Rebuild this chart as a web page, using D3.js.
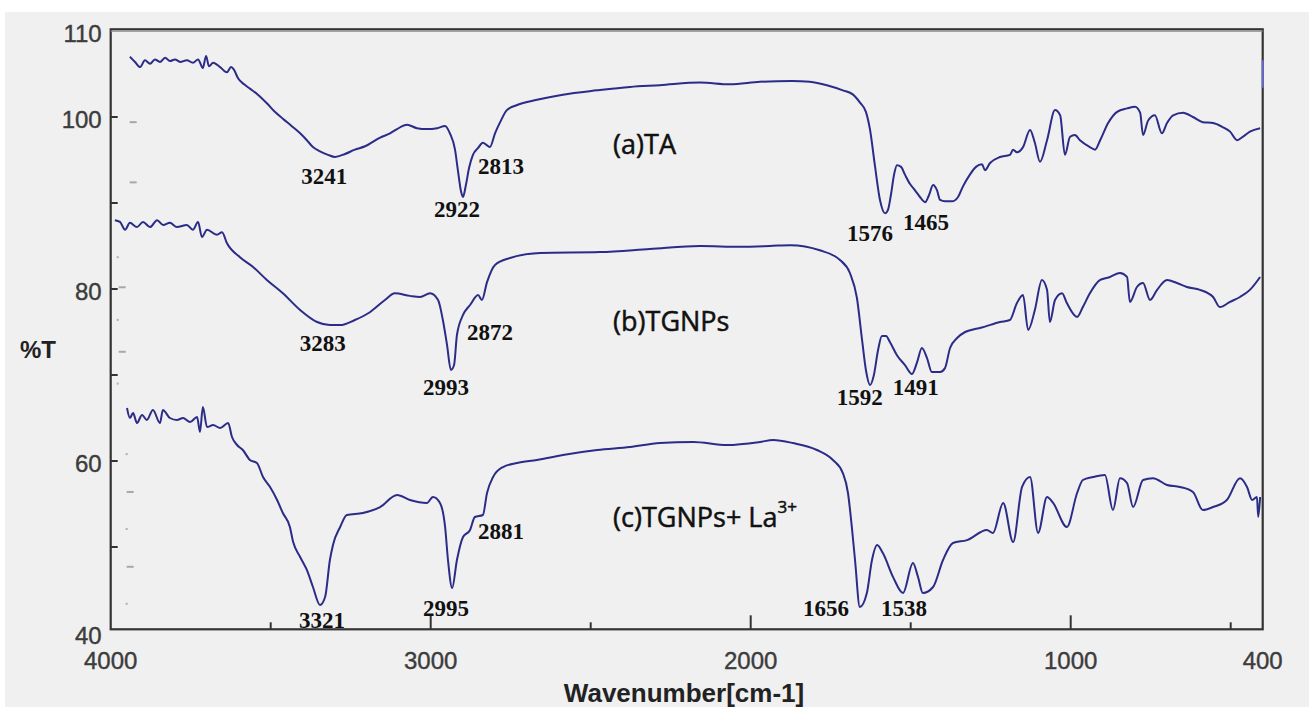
<!DOCTYPE html>
<html>
<head>
<meta charset="utf-8">
<script src="https://cdn.jsdelivr.net/npm/d3@7"></script>
<style>
  html, body { margin: 0; padding: 0; background: #ffffff; }
  svg { display: block; }
</style>
</head>
<body>
<svg id="chart" width="1309" height="723"></svg>
<script>
// ---------------- DATA ----------------
// (a) TA : [wavenumber cm-1, %T]
const seriesTA = [
  [3940,107.0],[3924,106.4],[3908,105.8],[3893,106.6],[3877,106.2],[3862,106.7],[3846,106.4],[3830,106.9],
  [3815,106.5],[3799,106.7],[3783,106.4],[3762,106.6],[3743,106.3],[3727,106.7],[3712,105.7],[3702,107.1],
  [3693,105.9],[3680,106.3],[3658,105.8],[3637,105.2],[3624,105.8],[3615,105.5],[3602,104.5],[3583,103.8],
  [3565,103.3],[3540,102.6],[3512,101.6],[3487,100.6],[3462,99.8],[3433,98.9],[3408,98.1],[3387,97.3],
  [3368,96.5],[3346,96.0],[3321,95.6],[3299,95.35],[3268,95.7],[3237,96.2],[3205,96.6],[3158,97.6],
  [3127,98.1],[3105,98.6],[3074,99.1],[3043,98.7],[3012,98.6],[2980,98.7],[2955,98.95],[2940,98.1],
  [2924,96.2],[2915,93.8],[2905,91.3],[2899,90.7],[2890,92.1],[2880,94.1],[2868,95.6],[2852,96.4],
  [2837,97.0],[2824,96.7],[2815,96.5],[2799,98.1],[2783,99.4],[2762,100.8],[2730,101.4],[2668,102.0],
  [2587,102.6],[2480,103.1],[2377,103.5],[2284,103.7],[2158,104.0],[2065,103.8],[1971,104.1],[1871,104.2],
  [1815,104.1],[1762,103.7],[1712,103.1],[1680,102.6],[1659,101.7],[1640,100.6],[1627,98.5],[1612,94.4],
  [1596,90.35],[1580,88.8],[1571,89.2],[1562,90.9],[1552,93.3],[1543,94.4],[1530,94.2],[1518,93.3],
  [1502,92.2],[1487,91.5],[1471,90.7],[1455,90.1],[1443,90.9],[1430,92.1],[1418,91.5],[1408,90.35],
  [1393,90.2],[1371,90.2],[1352,90.7],[1337,91.9],[1315,93.3],[1296,94.2],[1277,94.5],[1268,93.8],
  [1252,94.65],[1221,95.35],[1190,95.6],[1180,96.2],[1168,95.9],[1149,96.5],[1127,98.5],[1112,97.0],
  [1096,94.8],[1074,97.3],[1049,100.8],[1033,100.2],[1018,95.6],[1002,97.7],[987,97.9],[971,97.3],
  [940,96.5],[924,96.2],[908,97.3],[883,99.3],[855,100.6],[824,101.0],[799,101.2],[783,100.5],
  [774,97.9],[758,99.6],[737,100.2],[715,98.1],[699,99.3],[680,100.2],[649,100.5],[618,100.0],
  [587,99.4],[555,99.3],[524,98.8],[502,98.3],[480,97.3],[462,97.7],[440,98.3],[408,98.7]
];
// (b) TGNPs
const seriesTGNPs = [
  [3987,88.0],[3971,87.8],[3955,86.9],[3940,87.7],[3918,87.2],[3899,87.8],[3877,87.2],[3855,88.0],
  [3836,87.45],[3815,87.7],[3793,87.2],[3762,87.45],[3743,86.9],[3727,87.8],[3715,86.05],[3699,86.9],
  [3668,86.3],[3652,86.6],[3637,85.35],[3596,83.7],[3555,82.56],[3512,81.05],[3462,79.5],[3408,77.56],
  [3355,76.16],[3315,75.8],[3283,75.8],[3237,76.4],[3190,77.3],[3143,78.72],[3112,79.5],[3065,79.2],
  [3033,79.07],[3002,79.5],[2977,78.72],[2962,76.4],[2949,73.5],[2937,70.58],[2927,71.16],[2918,74.65],
  [2899,76.98],[2877,78.14],[2852,79.3],[2840,78.72],[2824,80.8],[2799,82.8],[2752,83.6],[2658,84.2],
  [2471,84.3],[2315,84.65],[2158,85.0],[2033,84.9],[1940,85.0],[1877,85.1],[1784,84.5],[1721,83.37],
  [1690,81.86],[1668,78.95],[1652,74.07],[1640,70.58],[1627,68.84],[1615,70.0],[1602,72.9],[1590,74.53],
  [1577,74.53],[1565,73.84],[1543,72.3],[1518,71.16],[1496,70.12],[1480,71.5],[1465,73.14],[1449,71.97],
  [1434,70.35],[1408,70.35],[1393,70.8],[1377,73.14],[1355,74.3],[1330,75.0],[1299,75.35],[1284,75.46],
  [1221,76.16],[1190,76.4],[1168,78.37],[1149,79.3],[1133,75.23],[1112,77.56],[1090,81.05],[1074,79.9],
  [1065,76.16],[1049,78.72],[1027,79.5],[1012,78.37],[980,76.75],[962,77.9],[940,79.5],[908,81.05],
  [877,81.4],[846,81.86],[824,81.4],[815,78.5],[793,80.23],[774,80.7],[752,78.72],[730,79.9],
  [699,81.05],[668,80.7],[637,80.23],[596,79.9],[555,79.07],[534,77.9],[502,78.5],[471,79.07],
  [440,79.9],[408,81.4]
];
// (c) TGNPs + La3+
const seriesTGNPsLa = [
  [3949,66.16],[3940,65.0],[3930,65.58],[3918,64.42],[3902,65.35],[3887,64.77],[3868,65.93],[3846,64.42],
  [3837,65.93],[3815,65.0],[3793,64.77],[3774,65.0],[3752,64.53],[3730,65.12],[3721,63.37],[3712,66.28],
  [3699,63.95],[3680,64.18],[3658,63.84],[3633,64.42],[3621,62.79],[3605,61.86],[3587,61.28],[3565,60.12],
  [3543,59.77],[3524,58.14],[3502,56.98],[3480,55.47],[3462,53.95],[3440,52.33],[3430,50.6],[3408,48.84],
  [3387,47.33],[3368,45.35],[3346,43.26],[3330,44.19],[3315,48.49],[3305,50.3],[3283,52.33],[3262,53.72],
  [3212,53.95],[3158,54.65],[3105,56.05],[3065,55.47],[3012,55.12],[2993,55.81],[2971,55.12],[2955,52.33],
  [2946,48.49],[2933,45.23],[2918,48.49],[2899,51.16],[2877,51.98],[2862,53.49],[2837,53.72],[2824,56.28],
  [2805,58.14],[2774,59.3],[2730,59.77],[2668,60.12],[2587,60.7],[2480,61.28],[2377,61.63],[2284,62.09],
  [2180,62.21],[2074,61.86],[1971,62.21],[1930,62.44],[1868,62.09],[1793,61.28],[1743,60.12],[1712,58.6],
  [1696,56.28],[1684,52.33],[1674,48.49],[1659,43.02],[1637,44.65],[1621,48.49],[1605,50.23],[1587,49.3],
  [1555,46.5],[1524,44.65],[1493,48.14],[1477,46.5],[1462,44.65],[1430,45.35],[1399,48.49],[1368,50.47],
  [1324,50.8],[1262,51.98],[1243,51.63],[1211,55.12],[1180,50.58],[1152,56.98],[1127,58.14],[1102,51.63],
  [1074,55.81],[1055,55.12],[1012,52.33],[980,56.28],[962,57.79],[930,58.14],[893,58.37],[868,54.3],
  [846,58.0],[824,57.44],[805,54.65],[774,57.79],[743,58.0],[699,57.21],[659,56.98],[618,56.4],
  [587,54.3],[555,54.65],[512,55.47],[471,58.0],[449,56.98],[433,55.47],[418,55.81],[414,53.49],[408,55.81]
];
// short stray trace on the right border
const edgeTrace = [[400,106.6],[400,103.4]];

const seriesNames = ["(a)TA", "(b)TGNPs", "(c)TGNPs+ La"];
const seriesSup = ["", "", "3+"];

// Peak labels (text) and their anchor positions in data units [wavenumber, %T]
const peakLabels = ["3241","2922","2813","1576","1465",
                    "3283","2993","2872","1592","1491",
                    "3321","2995","2881","1656","1538"];
const peakLabelAt = [[3333,93.1],[2918,89.2],[2780,94.2],[1627,86.5],[1452,87.7],
                     [3337,73.7],[2952,68.5],[2815,75.0],[1659,67.4],[1484,68.6],
                     [3340,41.5],[2952,42.9],[2780,51.75],[1765,42.9],[1521,42.9]];
const seriesLabelAt = [[2430,97.0],[2430,76.4],[2430,53.6]];

const xTickLabels = [4000, 3000, 2000, 1000, 400];
const xMajorTicks = [3000, 2000, 1000];
const xMinorTicks = [3500, 2500, 1500, 500];
const yTickLabels = [110, 100, 80, 60, 40];
const yTicks = [100, 90, 80, 70, 60, 50];
// faint grey marks next to the left axis (scan artefacts)
const yDashMarks = [99.4, 92.4, 80.2, 72.7, 56.4, 47.7];
const yDotMarks = [83.7, 76.4, 69.0, 60.8, 52.1, 43.4];

const xDomain = [4000, 400];
const yDomain = [40, 110];
const yFrame = [40.43, 110.2];

// ---------------- DRAW ----------------
const svg = d3.select("#chart");
svg.append("rect").attr("x", 5).attr("y", 12).attr("width", 1304).attr("height", 695).attr("fill", "#f0f0f0");

const x = d3.scaleLinear().domain(xDomain).range([110.7, 1262.7]);
const y = d3.scaleLinear().domain(yDomain).range([633, 31]);

const x0 = x(xDomain[0]), x1 = x(xDomain[1]);
const yT = y(yFrame[1]), yB = y(yFrame[0]);

// faint marks
svg.append("g").selectAll("rect").data(yDashMarks).join("rect")
  .attr("x", (d, i) => (i < 2 ? x0 + 19 : (i < 4 ? x0 + 8 : x0 + 16)))
  .attr("y", d => y(d) - 1).attr("width", 7).attr("height", 2).attr("fill", "#a8a8a8");
svg.append("g").selectAll("rect").data(yDotMarks).join("rect")
  .attr("x", (d, i) => (i < 3 ? x0 + 6 : x0 + 15))
  .attr("y", d => y(d) - 1).attr("width", 2).attr("height", 2).attr("fill", "#b0b0b0");

// frame
svg.append("rect").attr("x", x0).attr("y", yT).attr("width", x1 - x0).attr("height", yB - yT)
  .attr("fill", "none").attr("stroke", "#333333").attr("stroke-width", 2.2);
svg.append("line").attr("x1", x0).attr("x2", x1).attr("y1", yT + 1.8).attr("y2", yT + 1.8)
  .attr("stroke", "#8a8a8a").attr("stroke-width", 1.2);

// ticks
svg.append("g").selectAll("line").data(yTicks).join("line")
  .attr("x1", x0).attr("x2", x0 + 7).attr("y1", d => y(d)).attr("y2", d => y(d))
  .attr("stroke", "#333333").attr("stroke-width", 2);
svg.append("g").selectAll("line").data(xMajorTicks).join("line")
  .attr("x1", d => x(d)).attr("x2", d => x(d)).attr("y1", yB).attr("y2", yB - 14)
  .attr("stroke", "#333333").attr("stroke-width", 2);
svg.append("g").selectAll("line").data(xMinorTicks).join("line")
  .attr("x1", d => x(d)).attr("x2", d => x(d)).attr("y1", yB).attr("y2", yB - 7)
  .attr("stroke", "#333333").attr("stroke-width", 2);

// tick labels
const tickFont = "'Liberation Sans', Arial, sans-serif";
svg.append("g").selectAll("text").data(yTickLabels).join("text")
  .attr("x", x0 - 9).attr("y", d => y(d) + 2)
  .attr("text-anchor", "end").attr("dominant-baseline", "central")
  .attr("font-family", tickFont).attr("font-size", 24).attr("fill", "#3c3c3c")
  .attr("stroke", "#3c3c3c").attr("stroke-width", 0.4)
  .text(d => d);
svg.append("g").selectAll("text").data(xTickLabels).join("text")
  .attr("x", d => x(d)).attr("y", 660)
  .attr("text-anchor", "middle").attr("dominant-baseline", "central")
  .attr("font-family", tickFont).attr("font-size", 24).attr("fill", "#3c3c3c")
  .attr("stroke", "#3c3c3c").attr("stroke-width", 0.4)
  .text(d => d);

// axis titles
svg.append("text").attr("x", 684).attr("y", 693)
  .attr("text-anchor", "middle").attr("dominant-baseline", "central")
  .attr("font-family", tickFont).attr("font-weight", "bold").attr("font-size", 26)
  .attr("fill", "#222222").text("Wavenumber[cm-1]");
svg.append("text").attr("x", 20).attr("y", 349)
  .attr("text-anchor", "start").attr("dominant-baseline", "central")
  .attr("font-family", tickFont).attr("font-weight", "bold").attr("font-size", 24)
  .attr("fill", "#222222").text("%T");

// curves
const line = d3.line().x(d => x(d[0])).y(d => y(d[1])).curve(d3.curveMonotoneX);
const allSeries = [seriesTA, seriesTGNPs, seriesTGNPsLa];
svg.append("g").selectAll("path").data(allSeries).join("path")
  .attr("d", d => line(d.slice().sort((a, b) => b[0] - a[0])))
  .attr("fill", "none").attr("stroke", "#2b2b88").attr("stroke-width", 2)
  .attr("stroke-linejoin", "round");
svg.append("path").attr("d", d3.line().x(d => x(d[0])).y(d => y(d[1]))(edgeTrace))
  .attr("fill", "none").attr("stroke", "#6a6ad0").attr("stroke-width", 2);

// series labels
const sl = svg.append("g").selectAll("text").data(seriesNames).join("text")
  .attr("x", (d, i) => x(seriesLabelAt[i][0])).attr("y", (d, i) => y(seriesLabelAt[i][1]))
  .attr("dominant-baseline", "central")
  .attr("font-family", "'Open Sans', Lato, sans-serif").attr("font-size", 27)
  .attr("fill", "#111").attr("stroke", "#111").attr("stroke-width", 0.5);
sl.append("tspan").text(d => d);
sl.filter((d, i) => seriesSup[i]).append("tspan")
  .attr("dy", -10).attr("font-size", 17).text(() => seriesSup[2]);

// peak labels
svg.append("g").selectAll("text").data(peakLabels).join("text")
  .attr("x", (d, i) => x(peakLabelAt[i][0])).attr("y", (d, i) => y(peakLabelAt[i][1]))
  .attr("text-anchor", "middle").attr("dominant-baseline", "central")
  .attr("font-family", "'Liberation Serif', 'Times New Roman', serif").attr("font-weight", "bold")
  .attr("font-size", 23).attr("fill", "#111")
  .text(d => d);
</script>
</body>
</html>
